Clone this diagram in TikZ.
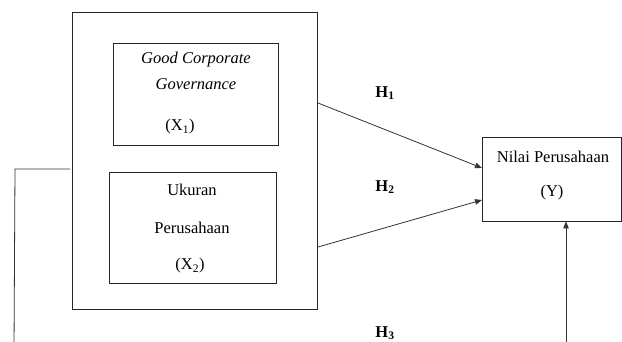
\documentclass[tikz,border=0pt]{standalone}
\usepackage{fontspec}
\setmainfont{Liberation Serif}
\usetikzlibrary{arrows.meta}
\begin{document}
\begin{tikzpicture}[x=1pt,y=-1pt,
  box/.style={draw=black!85, line width=0.8pt, inner sep=0pt},
  txt/.style={inner sep=0pt, font=\fontsize{16.5}{19}\selectfont},
  hlab/.style={inner sep=0pt, font=\fontsize{16.5}{18}\selectfont\bfseries},
  ln/.style={draw=black!80, line width=0.8pt},
  arr/.style={ln, -{Triangle[length=7pt,width=5.5pt]}}]
\useasboundingbox (0,0) rectangle (622,342);
\clip (0,0) rectangle (622,342);
% boxes
\node[box, minimum width=245pt, minimum height=297pt] (outer) at (194.5,160.5) {};
\node[box, minimum width=165pt, minimum height=102pt] (gcg) at (195.5,94) {};
\node[box, minimum width=167pt, minimum height=111pt] (uk) at (192.5,227.5) {};
\node[box, minimum width=139pt, minimum height=84pt] (Y) at (551.5,179) {};
% texts
\node[txt] (t1) at (196,60) {\itshape Good Corporate};
\node[txt] (t2) at (196,84) {\itshape Governance};
\node[txt] (t3) at (180,127) {(X\textsubscript{1})};
\node[txt] (u1) at (192,190) {Ukuran};
\node[txt] (u2) at (192,228) {Perusahaan};
\node[txt] (u3) at (190,266) {(X\textsubscript{2})};
\node[txt] (y1) at (553,157) {Nilai Perusahaan};
\node[txt] (y2) at (552,193) {(Y)};
\node[hlab] (h1) at (385,93) {H\textsubscript{1}};
\node[hlab] (h2) at (385,187) {H\textsubscript{2}};
\node[hlab] (h3) at (385,333) {H\textsubscript{3}};
% connectors
\coordinate (a1) at (318,103);
\coordinate (b1) at (482,168);
\coordinate (a2) at (318,247);
\coordinate (b2) at (482,200);
\draw[arr] (a1) -- (b1);
\draw[arr] (a2) -- (b2);
\coordinate (lstart) at (70,169);
\coordinate (lcorner) at (15,169);
\coordinate (lend) at (14,350);
\draw[ln] (lstart) -- (lcorner) -- (lend);
\coordinate (vstart) at (566,350);
\draw[arr] (vstart) -- (Y.south -| vstart);
\end{tikzpicture}
\end{document}
